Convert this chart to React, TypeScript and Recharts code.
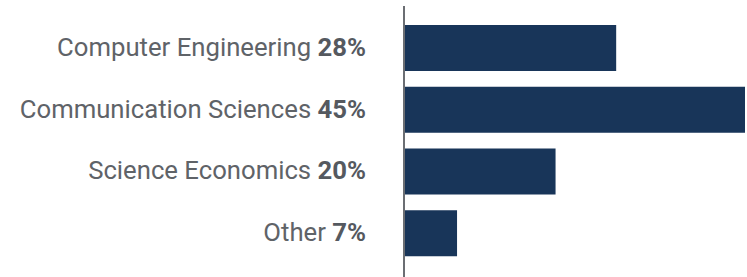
import { BarChart, Bar, XAxis, YAxis } from 'recharts';

const categories = ['Computer Engineering', 'Communication Sciences', 'Science Economics', 'Other'];
const shares = [28, 45, 20, 7];

const data = categories.map((name, i) => ({ name, share: shares[i] }));

const LabelTick = (props: any) => {
  const { x, y, payload } = props;
  const row = data[payload.index];
  return (
    <text
      x={x}
      y={y}
      dy={8}
      textAnchor="end"
      fontFamily="Roboto, sans-serif"
      fontSize={25.7}
      fill="#5f6368"
    >
      {row.name}{' '}
      <tspan fontWeight={700} fill="#55595f">{row.share}%</tspan>
    </text>
  );
};

export default function App() {
  return (
    <div style={{ position: 'absolute', left: 0, top: 0, background: '#fff' }}>
      <BarChart
        width={747}
        height={277}
        data={data}
        layout="vertical"
        margin={{ top: 6, right: 2, bottom: 0, left: 0 }}
        barSize={46}
      >
        <XAxis type="number" domain={[0, 45]} hide />
        <YAxis
          type="category"
          dataKey="name"
          width={404}
          tick={<LabelTick />}
          tickLine={false}
          tickMargin={32}
          axisLine={{ stroke: '#6b6e73', strokeWidth: 2 }}
          padding={{ top: 11, bottom: 13 }}
          interval={0}
        />
        <Bar dataKey="share" fill="#183559" isAnimationActive={false} />
      </BarChart>
    </div>
  );
}
